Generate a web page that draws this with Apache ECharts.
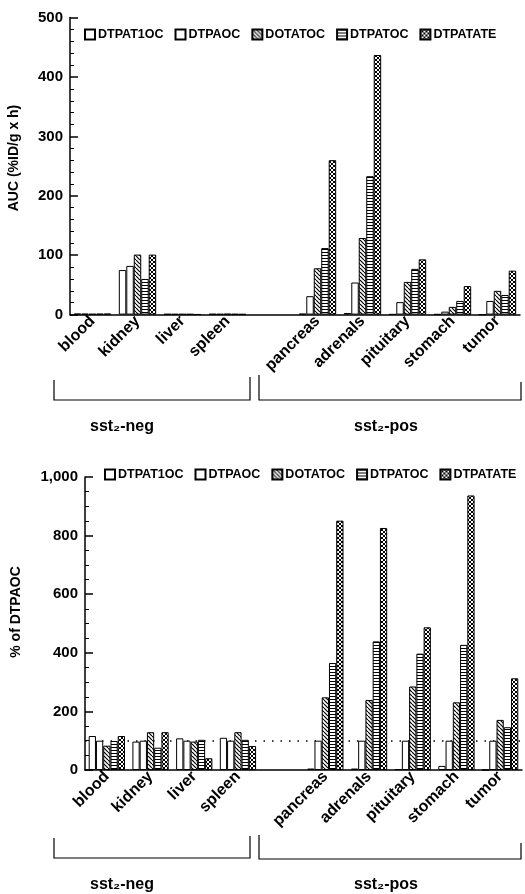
<!DOCTYPE html>
<html>
<head>
<meta charset="utf-8">
<script src="https://cdn.jsdelivr.net/npm/echarts@6/dist/echarts.min.js"></script>
<style>
html,body{margin:0;padding:0;background:#fff;}
#chart{width:525px;height:894px;}
</style>
</head>
<body>
<div id="chart"></div>
<script>
// ---------------- data ----------------
const categories = ['blood', 'kidney', 'liver', 'spleen', '', 'pancreas', 'adrenals', 'pituitary', 'stomach', 'tumor'];
const seriesNames = ['DTPAT1OC', 'DTPAOC', 'DOTATOC', 'DTPATOC', 'DTPATATE'];

// AUC (%ID/g x h)
const aucDTPAT1OC = [1.7, 75, 1.1, 1.2, null, 1.5, 2.7, 0.6, 0.7, 0];
const aucDTPAOC   = [1.5, 82, 1.0, 1.1, null, 31, 54, 21, 5, 23];
const aucDOTATOC  = [1.2, 101, 1.0, 1.4, null, 78, 129, 55, 13, 40];
const aucDTPATOC  = [1.5, 60, 1.0, 1.1, null, 112, 233, 77, 23, 33];
const aucDTPATATE = [1.7, 101, 0.4, 0.9, null, 260, 437, 93, 48, 74];

// % of DTPAOC
const pctDTPAT1OC = [116, 97, 108, 110, null, 5, 5, 3, 14, 0];
const pctDTPAOC   = [100, 100, 100, 100, null, 100, 100, 100, 100, 100];
const pctDOTATOC  = [83, 129, 97, 129, null, 248, 239, 285, 231, 171];
const pctDTPATOC  = [99, 76, 103, 103, null, 365, 439, 397, 427, 146];
const pctDTPATATE = [116, 129, 40, 82, null, 851, 826, 487, 937, 313];

const topTicks = [0, 100, 200, 300, 400, 500];
const bottomTicks = [0, 200, 400, 600, 800, 1000];
const referenceLine = 100;

const groupLabels = ['sst\u2082-neg', 'sst\u2082-pos'];

// ---------------- patterns ----------------
function makeTile(w, h, draw) {
  const c = document.createElement('canvas');
  c.width = w; c.height = h;
  const ctx = c.getContext('2d');
  ctx.fillStyle = '#fff';
  ctx.fillRect(0, 0, w, h);
  ctx.strokeStyle = '#000';
  ctx.fillStyle = '#000';
  draw(ctx, w, h);
  return c;
}
const hatchTile = makeTile(4, 4, function (ctx, w, h) {
  ctx.lineWidth = 1.2;
  ctx.beginPath();
  for (let i = -1; i <= 1; i++) {
    ctx.moveTo(i * w, 0);
    ctx.lineTo(i * w + w, h);
  }
  ctx.stroke();
});
const lineTile = makeTile(4, 3, function (ctx, w) {
  ctx.fillRect(0, 0, w, 1);
});
const crossTile = makeTile(4, 4, function (ctx, w, h) {
  ctx.lineWidth = 1;
  ctx.beginPath();
  for (let i = -1; i <= 1; i++) {
    ctx.moveTo(i * w, 0);
    ctx.lineTo(i * w + w, h);
    ctx.moveTo(i * w + w, 0);
    ctx.lineTo(i * w, h);
  }
  ctx.stroke();
});
const fills = [
  '#ffffff',
  '#ffffff',
  { image: hatchTile, repeat: 'repeat' },
  { image: lineTile, repeat: 'repeat' },
  { image: crossTile, repeat: 'repeat' }
];

const topData = [aucDTPAT1OC, aucDTPAOC, aucDOTATOC, aucDTPATOC, aucDTPATATE];
const bottomData = [pctDTPAT1OC, pctDTPAOC, pctDOTATOC, pctDTPATOC, pctDTPATATE];

const FONT = 'Liberation Sans, Arial, sans-serif';

function makeSeries(dataSets, idx) {
  return dataSets.map(function (d, i) {
    const s = {
      name: seriesNames[i],
      type: 'bar',
      xAxisIndex: idx,
      yAxisIndex: idx,
      data: d,
      barGap: '0%',
      barCategoryGap: '17%',
      itemStyle: { color: fills[i], borderColor: '#000', borderWidth: 1 },
      emphasis: { disabled: true },
      animation: false
    };
    if (idx === 1 && i === 1) {
      s.markLine = {
        silent: true,
        symbol: 'none',
        z: 1,
        label: { show: false },
        lineStyle: { color: '#000', type: [1.5, 7], width: 1.5 },
        data: [{ yAxis: referenceLine }]
      };
    }
    return s;
  });
}

function legendCfg(left, top) {
  return {
    data: seriesNames,
    left: left,
    top: top,
    itemWidth: 10,
    itemHeight: 10,
    itemGap: 11,
    selectedMode: false,
    icon: 'rect',
    textStyle: { fontFamily: FONT, fontSize: 12.5, fontWeight: 'bold', color: '#000', padding: [0, 0, 0, -2] }
  };
}

function xAxisCfg(gridIndex) {
  return {
    type: 'category',
    gridIndex: gridIndex,
    data: categories,
    axisLine: { lineStyle: { color: '#000', width: 1.5 } },
    axisTick: { show: false },
    axisLabel: {
      interval: 0,
      rotate: 45,
      margin: 4,
      color: '#000',
      fontFamily: FONT,
      fontSize: 16,
      fontWeight: 'bold'
    },
    splitLine: { show: false }
  };
}

function yAxisCfg(gridIndex, ticks, minorSplit) {
  return {
    type: 'value',
    gridIndex: gridIndex,
    min: ticks[0],
    max: ticks[ticks.length - 1],
    interval: ticks[1] - ticks[0],
    axisLine: { show: true, lineStyle: { color: '#000', width: 1.5 } },
    axisTick: { show: true, inside: true, length: 8, lineStyle: { color: '#000', width: 1.5 } },
    minorTick: { show: true, splitNumber: minorSplit, length: 4, lineStyle: { color: '#000', width: 1 } },
    axisLabel: { color: '#000', fontFamily: FONT, fontSize: 15, fontWeight: 'bold', margin: 7 },
    splitLine: { show: false }
  };
}

function bracket(x1, x2, yTopL, yTopR, yBottom) {
  return {
    type: 'polyline',
    silent: true,
    shape: { points: [[x1, yTopL], [x1, yBottom], [x2, yBottom], [x2, yTopR]] },
    style: { stroke: '#000', lineWidth: 1.2, fill: null }
  };
}
function label(text, x, y) {
  return {
    type: 'text', silent: true, x: x, y: y,
    style: { text: text, font: 'bold 16px ' + FONT, fill: '#000', textAlign: 'center', textVerticalAlign: 'middle' }
  };
}
function vname(text, x, y) {
  return {
    type: 'text', silent: true, x: x, y: y, rotation: Math.PI / 2,
    style: { text: text, font: 'bold 14px ' + FONT, fill: '#000', textAlign: 'center', textVerticalAlign: 'middle' }
  };
}

const chart = echarts.init(document.getElementById('chart'), null, { renderer: 'canvas' });
chart.setOption({
  animation: false,
  backgroundColor: '#fff',
  legend: [legendCfg(79, 23), legendCfg(99, 463)],
  grid: [
    { left: 70, top: 17.6, width: 450, height: 297, containLabel: false },
    { left: 85, top: 477, width: 437, height: 293, containLabel: false }
  ],
  xAxis: [xAxisCfg(0), xAxisCfg(1)],
  yAxis: [yAxisCfg(0, topTicks, 5), yAxisCfg(1, bottomTicks, 4)],
  series: makeSeries(topData, 0).concat(makeSeries(bottomData, 1)),
  graphic: [
    vname('AUC (%ID/g x h)', 14, 158),
    vname('% of DTPAOC', 16, 612),
    bracket(54, 250, 380, 377, 400),
    bracket(259, 521, 375, 382, 400),
    label(groupLabels[0], 122, 427),
    label(groupLabels[1], 386, 427),
    bracket(54, 250, 838, 836, 858),
    bracket(259, 521, 835, 843, 859),
    label(groupLabels[0], 122, 885),
    label(groupLabels[1], 386, 885)
  ]
});
</script>
</body>
</html>
